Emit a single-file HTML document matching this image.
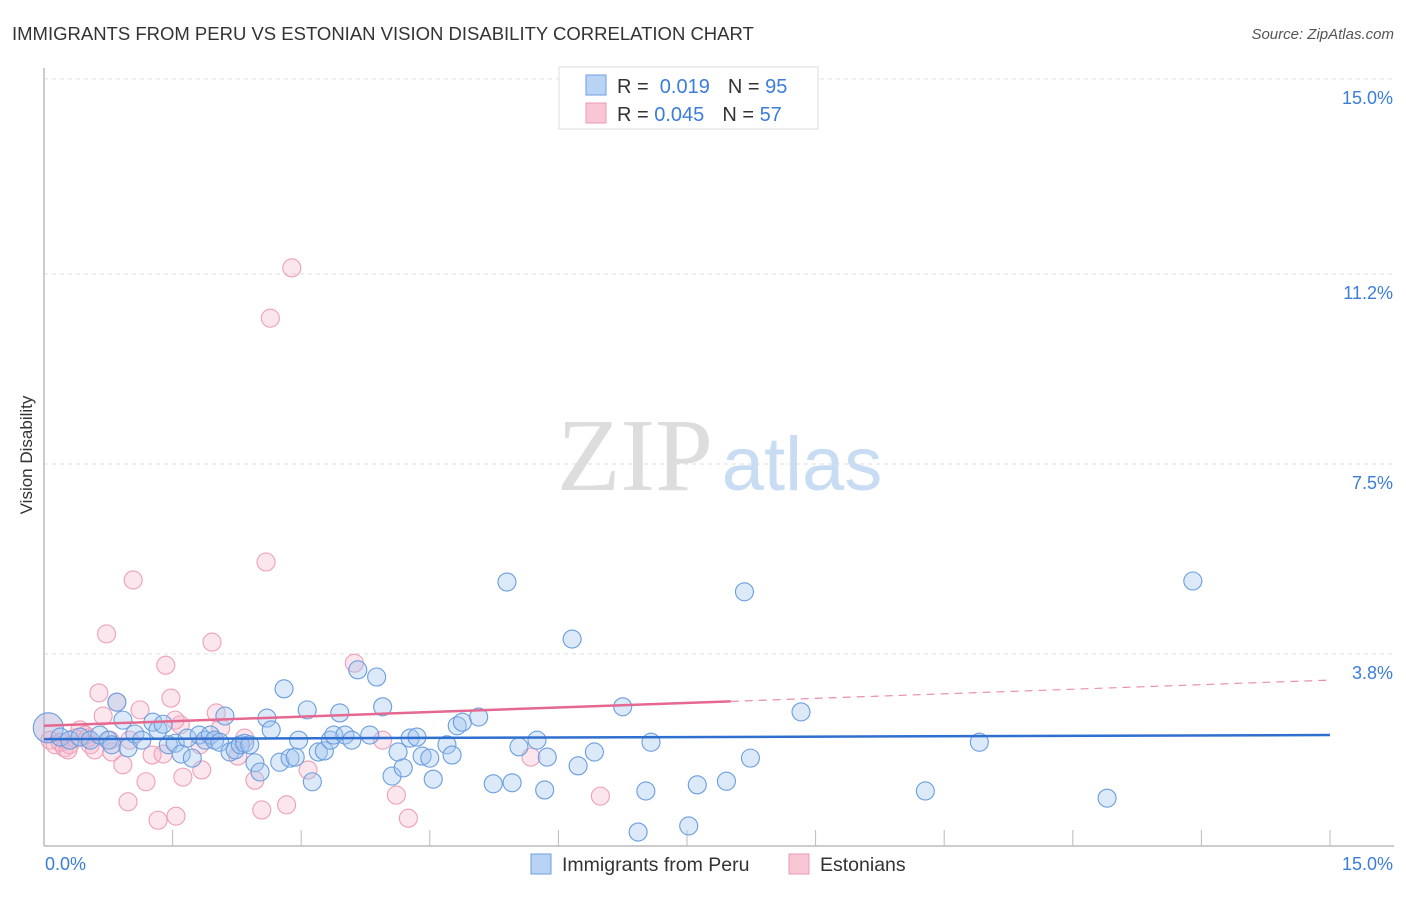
<!DOCTYPE html>
<html><head><meta charset="utf-8"><style>
body{margin:0;background:#fff;font-family:"Liberation Sans",sans-serif}
svg text{font-family:"Liberation Sans",sans-serif}
</style></head><body>
<svg id="c" width="1406" height="892" xmlns="http://www.w3.org/2000/svg">
<text x="12" y="40" font-size="18.5" fill="#333">IMMIGRANTS FROM PERU VS ESTONIAN VISION DISABILITY CORRELATION CHART</text>
<text x="1394" y="39" font-size="15" fill="#555" font-style="italic" text-anchor="end">Source: ZipAtlas.com</text>
<text x="32" y="455" font-size="17" fill="#333" text-anchor="middle" transform="rotate(-90 32 455)">Vision Disability</text>
<g>
<text x="635" y="490" font-size="104" fill="#ddd" text-anchor="middle" style="font-family:'Liberation Serif',serif">ZIP</text>
<text x="802" y="490" font-size="76" fill="#c8dcf3" text-anchor="middle">atlas</text>
</g>
<g id="grid"></g>
<g id="axes"></g>
<g id="pts"></g>
<g id="trend"></g>
<g>
<rect x="559" y="67" width="259" height="62" fill="#fff" stroke="#ddd"/>
<rect x="586" y="75" width="20" height="20" fill="#b9d3f5" stroke="#6d9fe0"/>
<rect x="586" y="103" width="20" height="20" fill="#f9c6d5" stroke="#eb9ab3"/>
<text x="617" y="93" font-size="20" fill="#333">R = <tspan fill="#3b7dd8">&#160;0.019</tspan><tspan dx="18">N = </tspan><tspan fill="#3b7dd8">95</tspan></text>
<text x="617" y="121" font-size="20" fill="#333">R = <tspan fill="#3b7dd8">0.045</tspan><tspan dx="18">N = </tspan><tspan fill="#3b7dd8">57</tspan></text>
</g>
<g>
<rect x="531" y="854" width="20" height="20" fill="#b9d3f5" stroke="#6d9fe0"/>
<text x="562" y="871" font-size="19.5" fill="#333">Immigrants from Peru</text>
<rect x="789" y="854" width="20" height="20" fill="#f9c6d5" stroke="#eb9ab3"/>
<text x="820" y="871" font-size="19.5" fill="#333">Estonians</text>
</g>
</svg>
<script>
const yTicks=[3.8,7.5,11.2,15.0];
const yTickLabels=["3.8%","7.5%","11.2%","15.0%"];
const xTickCount=10;
const blueX=[0.05,0.19,0.30,0.42,0.54,0.65,0.75,0.79,0.85,0.92,0.98,1.06,1.14,1.27,1.33,1.39,1.45,1.53,1.60,1.67,1.73,1.81,1.88,1.94,1.99,2.05,2.11,2.17,2.23,2.29,2.34,2.40,2.46,2.52,2.60,2.65,2.75,2.80,2.87,2.93,2.97,3.07,3.13,3.20,3.27,3.34,3.38,3.45,3.51,3.59,3.66,3.80,3.88,3.95,4.06,4.13,4.19,4.27,4.35,4.41,4.50,4.54,4.70,4.76,4.82,4.88,5.07,5.24,5.40,5.46,5.54,5.75,5.84,5.87,6.16,6.23,6.42,6.75,6.93,7.02,7.08,7.52,7.62,7.96,8.17,8.24,8.83,10.28,10.91,12.40,13.40];
const blueY=[2.36,2.18,2.12,2.18,2.12,2.22,2.12,2.03,2.86,2.51,1.97,2.24,2.12,2.47,2.32,2.43,2.03,2.06,1.85,2.16,1.77,2.22,2.12,2.22,2.12,2.08,2.59,1.89,1.93,2.03,2.06,2.03,1.68,1.50,2.55,2.32,1.69,3.12,1.77,1.79,2.12,2.71,1.31,1.89,1.91,2.12,2.22,2.65,2.22,2.12,3.49,2.22,3.35,2.77,1.42,1.89,1.58,2.16,2.18,1.81,1.77,1.36,2.03,1.83,2.40,2.47,2.57,1.27,5.20,1.29,1.99,2.12,1.15,1.79,4.09,1.62,1.89,2.77,0.33,1.13,2.08,0.45,1.25,1.32,5.01,1.77,2.67,1.13,2.08,0.99,5.22];
const pinkX=[0.07,0.13,0.19,0.24,0.30,0.36,0.42,0.48,0.54,0.59,0.64,0.69,0.73,0.79,0.85,0.92,0.98,1.04,1.12,1.19,1.26,1.33,1.39,1.42,1.48,1.54,1.59,1.62,1.84,1.96,2.01,2.06,2.26,2.34,2.46,2.54,2.59,2.64,2.83,2.89,3.08,3.62,3.95,4.11,4.25,5.68,6.49,0.28,0.51,0.77,1.00,1.53,1.82];
const pinkY=[2.12,2.03,2.08,1.97,2.03,2.16,2.32,2.22,2.03,1.93,3.04,2.59,4.19,1.89,2.86,1.64,0.92,5.24,2.71,1.31,1.83,0.56,1.85,3.58,2.94,0.64,2.42,1.40,1.54,4.03,2.65,2.36,1.81,2.16,1.34,0.76,5.59,10.34,0.86,11.32,1.54,3.62,2.12,1.05,0.60,1.79,1.03,1.93,2.16,2.12,2.12,2.51,2.03];
const blueTrend=[2.14,2.22];
const pinkTrend=[2.40,3.29];
const pinkSolidEnd=8.01;
const NS="http://www.w3.org/2000/svg";
const X0=44,X1=1330,Y0=849,PPY=51.34;
const sx=v=>X0+v/15*(X1-X0), sy=v=>Y0-v*PPY;
function mk(t,a,p){const e=document.createElementNS(NS,t);for(const k in a)e.setAttribute(k,a[k]);p.appendChild(e);return e;}
const grid=document.getElementById('grid'),axes=document.getElementById('axes'),pts=document.getElementById('pts'),tr=document.getElementById('trend');
yTicks.forEach((v,i)=>{
 const l=mk('line',{x1:X0,x2:1394,y1:sy(v),y2:sy(v),stroke:'#ddd','stroke-dasharray':'4,4'},grid);
 
 
 const t=mk('text',{x:1393,y:sy(v)+25,'font-size':18,fill:'#3b7dd8','text-anchor':'end'},grid);
 t.textContent=yTickLabels[i];
 
 
});
const ya=mk('line',{x1:X0,x2:X0,y1:68,y2:846,stroke:'#bbb','stroke-width':1.5},axes);


const xa=mk('line',{x1:X0,x2:1394,y1:846,y2:846,stroke:'#bbb','stroke-width':1.5},axes);


for(let i=1;i<=xTickCount;i++){const x=sx(15*i/xTickCount);
 const tk=mk('line',{x1:x,x2:x,y1:830,y2:846,stroke:'#bbb'},axes);
 
 }
const xl0=mk('text',{x:45,y:870,'font-size':18,fill:'#3b7dd8'},axes);xl0.textContent='0.0%';


const xl1=mk('text',{x:1393,y:870,'font-size':18,fill:'#3b7dd8','text-anchor':'end'},axes);xl1.textContent='15.0%';


pinkX.forEach((v,i)=>{const c=mk('circle',{cx:sx(v),cy:sy(pinkY[i]),r:9,fill:'rgba(246,178,200,0.32)',stroke:'#ee9fb8','stroke-width':1.1},pts);
 
 });
blueX.forEach((v,i)=>{const c=mk('circle',{cx:sx(v),cy:sy(blueY[i]),r:i===0?15:9,fill:i===0?'rgba(180,170,215,0.45)':'rgba(160,196,240,0.38)',stroke:'#6a9ddf','stroke-width':1.1},pts);
 
 });
const bl=mk('line',{x1:sx(0),y1:sy(blueTrend[0]),x2:sx(15),y2:sy(blueTrend[1]),stroke:'#2f6fd0','stroke-width':2.5},tr);


const pe=pinkTrend[0]+(pinkTrend[1]-pinkTrend[0])*pinkSolidEnd/15;
const pl=mk('line',{x1:sx(0),y1:sy(pinkTrend[0]),x2:sx(pinkSolidEnd),y2:sy(pe),stroke:'#e46890','stroke-width':2.5},tr);


const pd=mk('line',{x1:sx(pinkSolidEnd),y1:sy(pe),x2:sx(15),y2:sy(pinkTrend[1]),stroke:'#e990aa','stroke-width':1.2,'stroke-dasharray':'8,6'},tr);


</script>
</body></html>
